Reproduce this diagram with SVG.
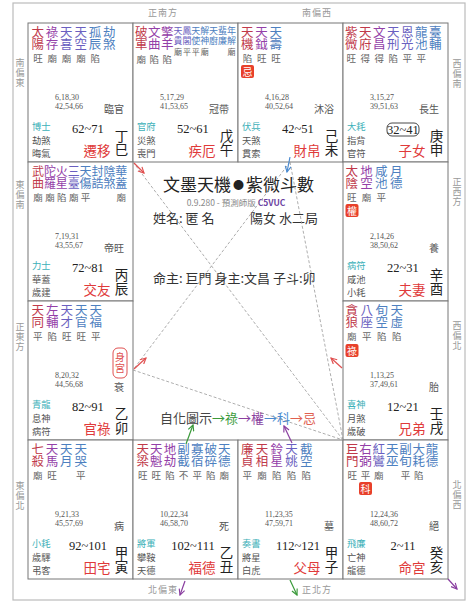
<svg xmlns="http://www.w3.org/2000/svg" width="474" height="602" viewBox="0 0 474 602">
<style>
text{font-family:"Noto Sans CJK TC","Noto Sans CJK SC",sans-serif}
.v{writing-mode:vertical-rl}
.st{font-size:12.5px}
.st12{font-size:12px}
.R{fill:#c0394a}.P{fill:#9440a8}.B1{fill:#6a5fc0}.B2{fill:#4d80c0}
.sm{font-size:9px;letter-spacing:1px}
.br{font-size:9.5px;fill:#666;text-anchor:middle}
.brs{font-size:8px;fill:#666;text-anchor:middle}
.num{font-family:"Liberation Serif",serif;font-size:8px;fill:#555}
.stg{font-size:10px;fill:#555;text-anchor:end}
.g{font-size:9.3px;fill:#555}
.g1{fill:#3cb0b8}
.rng{font-family:"Liberation Serif",serif;font-size:12.5px;fill:#222;text-anchor:middle}
.sb{font-size:13.5px;fill:#222;writing-mode:vertical-rl}
.pal{font-size:13.5px;fill:#e03a3a;text-anchor:middle}
.dir{font-size:9px;fill:#999;letter-spacing:1px}
.cell{fill:#fff;stroke:#777;stroke-width:1}
.bdg{fill:#e8402a}
.bt{font-size:10px;fill:#fff;text-anchor:middle}
.dash{stroke:#999;stroke-width:0.8;stroke-dasharray:3 2;fill:none}
.c1{font-size:13px;fill:#333}
.ar{stroke-width:1.2;fill:none}
</style>
<defs>
<marker id="mR" viewBox="0 0 10 10" refX="9" refY="5" markerWidth="6" markerHeight="6" orient="auto"><path d="M1,1 L9,5 L1,9" fill="none" stroke="#e05050" stroke-width="1.6"/></marker>
<marker id="mG" viewBox="0 0 10 10" refX="9" refY="5" markerWidth="6" markerHeight="6" orient="auto"><path d="M1,1 L9,5 L1,9" fill="none" stroke="#3a9a3a" stroke-width="1.6"/></marker>
<marker id="mP" viewBox="0 0 10 10" refX="9" refY="5" markerWidth="6" markerHeight="6" orient="auto"><path d="M1,1 L9,5 L1,9" fill="none" stroke="#8a3fa0" stroke-width="1.6"/></marker>
<marker id="mB" viewBox="0 0 10 10" refX="9" refY="5" markerWidth="6" markerHeight="6" orient="auto"><path d="M1,1 L9,5 L1,9" fill="none" stroke="#4a8ad0" stroke-width="1.6"/></marker>
</defs>
<rect x="0" y="0" width="474" height="602" fill="#fff"/>
<rect x="13" y="3" width="452" height="597" fill="#fff" stroke="#bbb" stroke-width="1.2"/>

<g id="directions">
<text class="dir" x="148" y="16">正南方</text>
<text class="dir" x="302" y="16">南偏西</text>
<text class="dir" x="148" y="593">北偏東</text>
<text class="dir" x="302" y="593">正北方</text>
<text class="dir v" x="20" y="58">南偏東</text>
<text class="dir v" x="20" y="180">東偏南</text>
<text class="dir v" x="20" y="322">正東方</text>
<text class="dir v" x="20" y="481">東偏北</text>
<text class="dir v" x="457" y="59">西偏南</text>
<text class="dir v" x="457" y="177">正西方</text>
<text class="dir v" x="457" y="321">西偏北</text>
<text class="dir v" x="457" y="480">北偏西</text>
</g>

<!-- 巳 -->
<g id="p-si" transform="translate(28,23)">
<rect class="cell" x="0" y="0" width="105" height="139"/>
<text class="st v R" x="9.75" y="2.5">太陽</text>
<text class="st v P" x="24.05" y="2.5">祿存</text>
<text class="st v B1" x="38.35" y="2.5">天喜</text>
<text class="st v B1" x="52.65" y="2.5">天空</text>
<text class="st v B2" x="66.95" y="2.5">孤辰</text>
<text class="st v B2" x="81.25" y="2.5">劫煞</text>
<text class="br" y="39"><tspan x="10">旺</tspan><tspan x="24.3">廟</tspan><tspan x="38.6">廟</tspan><tspan x="52.9">廟</tspan><tspan x="67.2">陷</tspan></text>
<text class="num" x="27" y="76.5">6,18,30<tspan x="27" dy="9">42,54,66</tspan></text>
<text class="stg" x="96" y="90">臨官</text>
<text class="g" x="4" y="107"><tspan class="g1">博士</tspan><tspan x="4" dy="13.5">劫煞</tspan><tspan x="4" dy="13.5">晦氣</tspan></text>
<text class="rng" x="60" y="110">62~71</text>
<text class="sb" x="93.5" y="106.5">丁巳</text>
<text class="pal" x="69" y="133">遷移</text>
</g>

<!-- 午 -->
<g id="p-wu" transform="translate(133,23)">
<rect class="cell" x="0" y="0" width="105" height="139"/>
<text class="st v R" x="8.25" y="2.5">破軍</text>
<text class="st v P" x="21.25" y="2.5">文曲</text>
<text class="st v P" x="34.25" y="2.5">擎羊</text>
<text class="sm v B1" x="45" y="3">天貴</text>
<text class="sm v B1" x="53.9" y="3">鳳閣</text>
<text class="sm v B2" x="62.8" y="3">天使</text>
<text class="sm v B2" x="71.7" y="3">解神</text>
<text class="sm v B2" x="80.6" y="3">天廚</text>
<text class="sm v B2" x="89.5" y="3">蜚廉</text>
<text class="sm v B2" x="98.4" y="3">年解</text>
<text class="brs" y="32"><tspan x="45">廟</tspan><tspan x="53.9">平</tspan><tspan x="62.8">平</tspan><tspan x="71.7">廟</tspan><tspan x="98.4">廟</tspan></text>
<text class="br" y="40"><tspan x="8.25">廟</tspan><tspan x="21.25">陷</tspan><tspan x="34.25">陷</tspan></text>
<text class="num" x="27" y="76.5">5,17,29<tspan x="27" dy="9">41,53,65</tspan></text>
<text class="stg" x="96" y="90">冠帶</text>
<text class="g" x="4" y="107"><tspan class="g1">官府</tspan><tspan x="4" dy="13.5">災煞</tspan><tspan x="4" dy="13.5">喪門</tspan></text>
<text class="rng" x="60" y="110">52~61</text>
<text class="sb" x="93.5" y="106.5">戊午</text>
<text class="pal" x="69" y="133">疾厄</text>
</g>

<!-- 未 -->
<g id="p-wei" transform="translate(238,23)">
<rect class="cell" x="0" y="0" width="105" height="139"/>
<text class="st v R" x="9.25" y="2.5">天機</text>
<text class="st v P" x="23.55" y="2.5">天鉞</text>
<text class="st v B2" x="37.85" y="2.5">天壽</text>
<text class="br" y="39"><tspan x="9.5">陷</tspan><tspan x="23.8">旺</tspan><tspan x="38.1">旺</tspan></text>
<rect class="bdg" x="3" y="42" width="13" height="13" rx="2"/><text class="bt" x="9.5" y="52.5">忌</text>
<text class="num" x="27" y="76.5">4,16,28<tspan x="27" dy="9">40,52,64</tspan></text>
<text class="stg" x="96" y="90">沐浴</text>
<text class="g" x="4" y="107"><tspan class="g1">伏兵</tspan><tspan x="4" dy="13.5">天煞</tspan><tspan x="4" dy="13.5">貫索</tspan></text>
<text class="rng" x="60" y="110">42~51</text>
<text class="sb" x="93.5" y="106.5">己未</text>
<text class="pal" x="69" y="133">財帛</text>
</g>

<!-- 申 -->
<g id="p-shen" transform="translate(343,23)">
<rect class="cell" x="0" y="0" width="105" height="139"/>
<text class="st v R" x="8.25" y="2.5">紫微</text>
<text class="st v R" x="22.25" y="2.5">天府</text>
<text class="st v P" x="36.25" y="2.5">文昌</text>
<text class="st v B1" x="50.25" y="2.5">天刑</text>
<text class="st v B1" x="64.25" y="2.5">恩光</text>
<text class="st v B2" x="78.25" y="2.5">龍池</text>
<text class="st v B2" x="92.25" y="2.5">臺輔</text>
<text class="br" y="39"><tspan x="8.25">旺</tspan><tspan x="22.25">得</tspan><tspan x="36.25">得</tspan><tspan x="50.25">陷</tspan><tspan x="64.25">平</tspan><tspan x="78.25">平</tspan></text>
<text class="num" x="27" y="76.5">3,15,27<tspan x="27" dy="9">39,51,63</tspan></text>
<text class="stg" x="96" y="90">長生</text>
<text class="g" x="4" y="107"><tspan class="g1">大耗</tspan><tspan x="4" dy="13.5">指背</tspan><tspan x="4" dy="13.5">官符</tspan></text>
<rect x="44" y="100" width="32" height="13" rx="5" fill="none" stroke="#333" stroke-width="0.9"/>
<text class="rng" x="60" y="110.5">32~41</text>
<text class="sb" x="93.5" y="106.5">庚申</text>
<text class="pal" x="69" y="133">子女</text>
</g>

<!-- 辰 -->
<g id="p-chen" transform="translate(28,162)">
<rect class="cell" x="0" y="0" width="105" height="139"/>
<text class="st12 v R" x="10" y="3">武曲</text>
<text class="st12 v P" x="21.9" y="3">陀羅</text>
<text class="st12 v P" x="33.8" y="3">火星</text>
<text class="st12 v B1" x="45.7" y="3">三臺</text>
<text class="st12 v B2" x="57.6" y="3">天傷</text>
<text class="st12 v B2" x="69.5" y="3">封誥</text>
<text class="st12 v B2" x="81.4" y="3">陰煞</text>
<text class="st12 v B2" x="93.3" y="3">華蓋</text>
<text class="br" y="39"><tspan x="10">廟</tspan><tspan x="21.9">廟</tspan><tspan x="33.8">陷</tspan><tspan x="45.7">廟</tspan><tspan x="57.6">平</tspan><tspan x="93.3">廟</tspan></text>
<text class="num" x="27" y="76.5">7,19,31<tspan x="27" dy="9">43,55,67</tspan></text>
<text class="stg" x="96" y="90">帝旺</text>
<text class="g" x="4" y="107"><tspan class="g1">力士</tspan><tspan x="4" dy="13.5">華蓋</tspan><tspan x="4" dy="13.5">歲建</tspan></text>
<text class="rng" x="60" y="110">72~81</text>
<text class="sb" x="93.5" y="106.5">丙辰</text>
<text class="pal" x="69" y="133">交友</text>
</g>

<!-- 酉 -->
<g id="p-you" transform="translate(343,162)">
<rect class="cell" x="0" y="0" width="105" height="139"/>
<text class="st v R" x="8.75" y="2.5">太陰</text>
<text class="st v P" x="23.55" y="2.5">地空</text>
<text class="st v B2" x="38.35" y="2.5">咸池</text>
<text class="st v B2" x="53.15" y="2.5">月德</text>
<text class="br" y="39"><tspan x="8.75">旺</tspan><tspan x="23.55">廟</tspan><tspan x="38.35">平</tspan></text>
<rect class="bdg" x="2.5" y="42" width="13" height="13" rx="2"/><text class="bt" x="9" y="52.5">權</text>
<text class="num" x="27" y="76.5">2,14,26<tspan x="27" dy="9">38,50,62</tspan></text>
<text class="stg" x="96" y="90">養</text>
<text class="g" x="4" y="107"><tspan class="g1">病符</tspan><tspan x="4" dy="13.5">咸池</tspan><tspan x="4" dy="13.5">小耗</tspan></text>
<text class="rng" x="60" y="110">22~31</text>
<text class="sb" x="93.5" y="106.5">辛酉</text>
<text class="pal" x="69" y="133">夫妻</text>
</g>

<!-- 卯 -->
<g id="p-mao" transform="translate(28,301)">
<rect class="cell" x="0" y="0" width="105" height="139"/>
<text class="st v R" x="9.75" y="2.5">天同</text>
<text class="st v P" x="24.25" y="2.5">左輔</text>
<text class="st v B1" x="38.75" y="2.5">天才</text>
<text class="st v B2" x="53.25" y="2.5">天官</text>
<text class="st v B2" x="67.75" y="2.5">天福</text>
<text class="br" y="39"><tspan x="9.75">平</tspan><tspan x="24.25">陷</tspan><tspan x="38.75">旺</tspan><tspan x="53.25">旺</tspan><tspan x="67.75">平</tspan></text>
<rect x="85" y="47" width="14" height="30" rx="5" fill="none" stroke="#e05050" stroke-width="1"/>
<text class="v" x="92" y="51" font-size="10" fill="#e05050" letter-spacing="1">身宮</text>
<text class="num" x="27" y="76.5">8,20,32<tspan x="27" dy="9">44,56,68</tspan></text>
<text class="stg" x="96" y="90">衰</text>
<text class="g" x="4" y="107"><tspan class="g1">青龍</tspan><tspan x="4" dy="13.5">息神</tspan><tspan x="4" dy="13.5">病符</tspan></text>
<text class="rng" x="60" y="110">82~91</text>
<text class="sb" x="93.5" y="106.5">乙卯</text>
<text class="pal" x="69" y="133">官祿</text>
</g>

<!-- 戌 -->
<g id="p-xu" transform="translate(343,301)">
<rect class="cell" x="0" y="0" width="105" height="139"/>
<text class="st v R" x="8.75" y="2.5">貪狼</text>
<text class="st v B1" x="23.75" y="2.5">八座</text>
<text class="st v B2" x="38.75" y="2.5">旬空</text>
<text class="st v B2" x="53.75" y="2.5">天虛</text>
<text class="br" y="39"><tspan x="8.75">廟</tspan><tspan x="23.75">平</tspan><tspan x="38.75">陷</tspan><tspan x="53.75">陷</tspan></text>
<rect class="bdg" x="2.5" y="43" width="13" height="13" rx="2"/><text class="bt" x="9" y="53.5">祿</text>
<text class="num" x="27" y="76.5">1,13,25<tspan x="27" dy="9">37,49,61</tspan></text>
<text class="stg" x="96" y="90">胎</text>
<text class="g" x="4" y="107"><tspan class="g1">喜神</tspan><tspan x="4" dy="13.5">月煞</tspan><tspan x="4" dy="13.5">歲破</tspan></text>
<text class="rng" x="60" y="110">12~21</text>
<text class="sb" x="93.5" y="106.5">壬戌</text>
<text class="pal" x="69" y="133">兄弟</text>
</g>

<!-- 寅 -->
<g id="p-yin" transform="translate(28,440)">
<rect class="cell" x="0" y="0" width="105" height="139"/>
<text class="st v R" x="9.75" y="2.5">七殺</text>
<text class="st v P" x="24.05" y="2.5">天馬</text>
<text class="st v B2" x="38.35" y="2.5">天月</text>
<text class="st v B2" x="52.65" y="2.5">天哭</text>
<text class="br" y="39"><tspan x="9.75">廟</tspan><tspan x="24.05">旺</tspan><tspan x="52.65">平</tspan></text>
<text class="num" x="27" y="76.5">9,21,33<tspan x="27" dy="9">45,57,69</tspan></text>
<text class="stg" x="96" y="90">病</text>
<text class="g" x="4" y="107"><tspan class="g1">小耗</tspan><tspan x="4" dy="13.5">歲驛</tspan><tspan x="4" dy="13.5">弔客</tspan></text>
<text class="rng" x="60" y="110">92~101</text>
<text class="sb" x="93.5" y="106.5">甲寅</text>
<text class="pal" x="69" y="133">田宅</text>
</g>

<!-- 丑 -->
<g id="p-chou" transform="translate(133,440)">
<rect class="cell" x="0" y="0" width="105" height="139"/>
<text class="st v R" x="9.75" y="2.5">天梁</text>
<text class="st v P" x="23.35" y="2.5">天魁</text>
<text class="st v P" x="36.95" y="2.5">地劫</text>
<text class="st v B2" x="50.55" y="2.5">副截</text>
<text class="st v B2" x="64.15" y="2.5">寡宿</text>
<text class="st v B2" x="77.75" y="2.5">破碎</text>
<text class="st v B2" x="91.35" y="2.5">天德</text>
<text class="br" y="39"><tspan x="9.75">旺</tspan><tspan x="23.35">旺</tspan><tspan x="36.95">陷</tspan><tspan x="50.55">不</tspan><tspan x="64.15">平</tspan><tspan x="77.75">陷</tspan><tspan x="91.35">廟</tspan></text>
<text class="num" x="27" y="76.5">10,22,34<tspan x="27" dy="9">46,58,70</tspan></text>
<text class="stg" x="96" y="90">死</text>
<text class="g" x="4" y="107"><tspan class="g1">將軍</tspan><tspan x="4" dy="13.5">攀鞍</tspan><tspan x="4" dy="13.5">天德</tspan></text>
<text class="rng" x="60" y="110">102~111</text>
<text class="sb" x="93.5" y="106.5">乙丑</text>
<text class="pal" x="69" y="133">福德</text>
</g>

<!-- 子 -->
<g id="p-zi" transform="translate(238,440)">
<rect class="cell" x="0" y="0" width="105" height="139"/>
<text class="st v R" x="9.25" y="2.5">廉貞</text>
<text class="st v R" x="24" y="2.5">天相</text>
<text class="st v P" x="38.75" y="2.5">鈴星</text>
<text class="st v B1" x="53.5" y="2.5">天姚</text>
<text class="st v B2" x="68.25" y="2.5">截空</text>
<text class="br" y="39"><tspan x="9.25">平</tspan><tspan x="24">廟</tspan><tspan x="38.75">陷</tspan><tspan x="53.5">陷</tspan><tspan x="68.25">陷</tspan></text>
<text class="num" x="27" y="76.5">11,23,35<tspan x="27" dy="9">47,59,71</tspan></text>
<text class="stg" x="96" y="90">墓</text>
<text class="g" x="4" y="107"><tspan class="g1">奏書</tspan><tspan x="4" dy="13.5">將星</tspan><tspan x="4" dy="13.5">白虎</tspan></text>
<text class="rng" x="60" y="110">112~121</text>
<text class="sb" x="93.5" y="106.5">甲子</text>
<text class="pal" x="69" y="133">父母</text>
</g>

<!-- 亥 -->
<g id="p-hai" transform="translate(343,440)">
<rect class="cell" x="0" y="0" width="105" height="139"/>
<text class="st v R" x="9.25" y="2.5">巨門</text>
<text class="st v P" x="22.55" y="2.5">右弼</text>
<text class="st v B1" x="35.85" y="2.5">紅鸞</text>
<text class="st v B2" x="49.15" y="2.5">天巫</text>
<text class="st v B2" x="62.45" y="2.5">副旬</text>
<text class="st v B2" x="75.75" y="2.5">大耗</text>
<text class="st v B2" x="89.05" y="2.5">龍德</text>
<text class="br" y="39"><tspan x="9.25">旺</tspan><tspan x="22.55">平</tspan><tspan x="35.85">廟</tspan><tspan x="62.45">平</tspan><tspan x="75.75">陷</tspan></text>
<rect class="bdg" x="16" y="42" width="13" height="13" rx="2"/><text class="bt" x="22.5" y="52.5">科</text>
<text class="num" x="27" y="76.5">12,24,36<tspan x="27" dy="9">48,60,72</tspan></text>
<text class="stg" x="96" y="90">絕</text>
<text class="g" x="4" y="107"><tspan class="g1">飛廉</tspan><tspan x="4" dy="13.5">亡神</tspan><tspan x="4" dy="13.5">龍德</tspan></text>
<text class="rng" x="60" y="110">2~11</text>
<text class="sb" x="93.5" y="106.5">癸亥</text>
<text class="pal" x="69" y="133">命宮</text>
</g>

<g id="center">
<text x="163" y="191" font-size="17" fill="#222">文墨天機</text>
<text x="238.5" y="189" font-size="11" fill="#222" text-anchor="middle">●</text>
<text x="246" y="191" font-size="17" fill="#222">紫微斗數</text>
<text x="236" y="205.5" text-anchor="middle" font-size="8.5" fill="#888" font-family="Liberation Serif, serif">0.9.280 - 預測師版 <tspan fill="#6a3fa0" font-weight="bold">C5VUC</tspan></text>
<text class="c1" x="153" y="223">姓名: 匿 名</text>
<text class="c1" x="250" y="223">陽女 水二局</text>
<text class="c1" x="153" y="283">命主: 巨門 身主:文昌 子斗:卯</text>
<text x="160" y="423" font-size="13"><tspan fill="#444">自化圖示</tspan><tspan fill="#3a9a3a">→祿</tspan><tspan fill="#8a3fa0">→權</tspan><tspan fill="#4a8ad0">→科</tspan><tspan fill="#e06050">→忌</tspan></text>
</g>

<g id="connectors">
<line class="dash" x1="133" y1="162" x2="343" y2="440"/>
<line class="dash" x1="290" y1="162" x2="133" y2="370"/>
<line class="dash" x1="133" y1="370" x2="343" y2="440"/>
<line class="dash" x1="290" y1="162" x2="343" y2="440"/>
<path class="ar" d="M134,163 L144,173" stroke="#e05050" marker-end="url(#mR)"/>
<path class="ar" d="M290,157 L287,172" stroke="#4a8ad0" marker-end="url(#mB)"/>
<path class="ar" d="M134,369 L146,358" stroke="#e05050" marker-end="url(#mR)"/>
<path class="ar" d="M342,368 L331,358" stroke="#e05050" marker-end="url(#mR)"/>
<path class="ar" d="M186,444 L193,425" stroke="#3a9a3a" marker-end="url(#mG)"/>
<path class="ar" d="M292,443 L284,426" stroke="#8a3fa0" marker-end="url(#mP)"/>
<path class="ar" d="M185,581 L180,595" stroke="#8a3fa0" marker-end="url(#mP)"/>
<path class="ar" d="M290,580 L297,595" stroke="#3a9a3a" marker-end="url(#mG)"/>
<path class="ar" d="M448,579 L457,589" stroke="#8a3fa0" marker-end="url(#mP)"/>
</g>
</svg>
